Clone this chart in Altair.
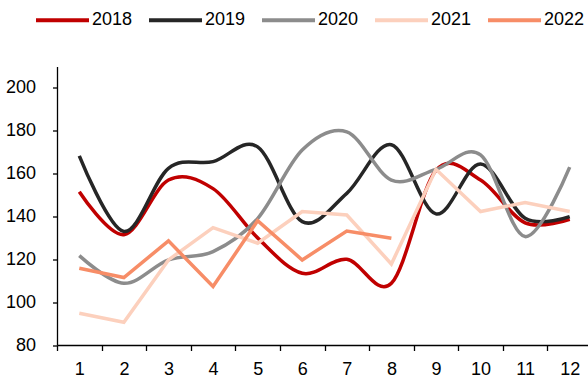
import altair as alt
import pandas as pd

# Monthly index values per year
months = [str(m) for m in range(1, 13)]
years = ["2018", "2019", "2020", "2021", "2022"]
v2018 = [151.5, 131.5, 157.0, 153.0, 130.0, 113.5, 120.0, 108.8, 161.5, 157.0, 137.0, 138.7]
v2019 = [168.3, 133.0, 162.5, 165.6, 172.5, 137.6, 150.8, 173.5, 141.2, 164.5, 139.2, 139.9]
v2020 = [121.7, 108.8, 119.7, 123.6, 139.0, 171.0, 179.5, 157.0, 162.0, 168.7, 130.6, 163.0]
v2021 = [94.8, 90.6, 119.7, 134.8, 127.5, 142.3, 140.7, 117.8, 162.0, 142.3, 146.5, 142.3]
v2022 = [115.8, 111.5, 128.6, 107.3, 138.0, 119.7, 133.2, 129.8]

colors = ["#C00000", "#262626", "#8C8C8C", "#FCD0BD", "#F78D67"]
y_ticks = [80, 100, 120, 140, 160, 180, 200]

series = dict(zip(years, [v2018, v2019, v2020, v2021, v2022]))
rows = []
for yr, vals in series.items():
    for m, v in zip(months, vals):
        rows.append({"year": yr, "month": m, "value": v})
df = pd.DataFrame(rows)

FONT = "Liberation Sans"

base = alt.Chart(df).encode(
    x=alt.X(
        "month:O",
        sort=months,
        scale=alt.Scale(type="band", paddingInner=0, paddingOuter=0),
        axis=alt.Axis(
            title=None,
            labelAngle=0,
            tickBand="extent",
            tickSize=5.5,
            labelPadding=10,
            domainColor="black",
            domainWidth=1.3,
            tickColor="black",
            tickWidth=1.3,
            labelFontSize=18,
            labelFont=FONT,
            labelColor="black",
        ),
    ),
    y=alt.Y(
        "value:Q",
        scale=alt.Scale(domain=[80, 210], nice=False, zero=False),
        axis=alt.Axis(
            title=None,
            values=y_ticks,
            grid=False,
            tickSize=4.5,
            labelPadding=17,
            domainColor="black",
            domainWidth=1.3,
            tickColor="black",
            tickWidth=1.3,
            labelFontSize=18,
            labelFont=FONT,
            labelColor="black",
        ),
    ),
    color=alt.Color(
        "year:N",
        scale=alt.Scale(domain=years, range=colors),
        legend=alt.Legend(
            title=None,
            orient="none",
            direction="horizontal",
            legendX=-23,
            legendY=-75,
            symbolType="stroke",
            symbolSize=2809,
            symbolStrokeWidth=4,
            labelOffset=1,
            columnPadding=8,
            labelFontSize=18,
            labelFont=FONT,
            labelColor="black",
        ),
    ),
)

smooth = base.transform_filter(
    alt.FieldOneOfPredicate(field="year", oneOf=["2018", "2019", "2020"])
).mark_line(interpolate="cardinal", tension=0, strokeWidth=3.5)

straight = base.transform_filter(
    alt.FieldOneOfPredicate(field="year", oneOf=["2021", "2022"])
).mark_line(strokeWidth=3.5)

chart = (
    alt.layer(smooth, straight)
    .properties(
        width=535,
        height=278.5,
        autosize=alt.AutoSizeParams(type="none"),
        padding={"left": 57, "top": 66.5, "right": -4, "bottom": 34},
        background="white",
    )
    .configure_view(strokeWidth=0)
)

chart.save("out.html", embed_options={"renderer": "svg", "actions": False})
